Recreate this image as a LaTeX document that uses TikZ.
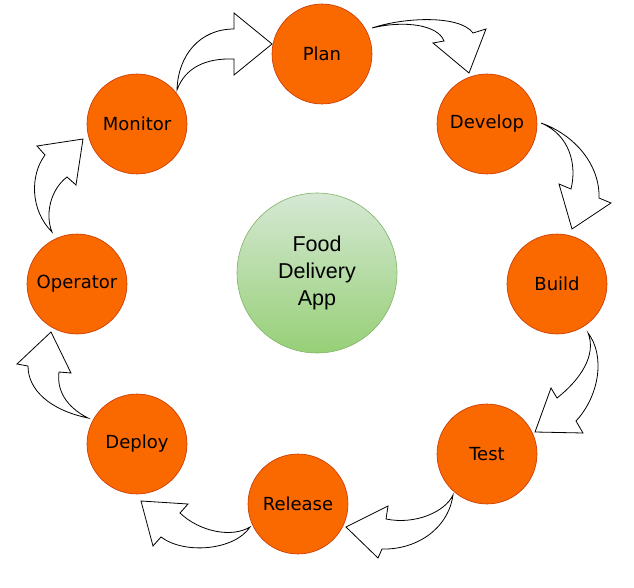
\documentclass[tikz,border=0pt]{standalone}
\usepackage{fontspec}
\setmainfont{DejaVu Sans}
\newfontfamily\appfont{Liberation Sans}
\usepackage{tikz}
\definecolor{stageorange}{HTML}{FA6800}
\definecolor{stageedge}{HTML}{C73500}
\definecolor{apptop}{HTML}{D5E8D4}
\definecolor{appbottom}{HTML}{97D077}
\definecolor{appedge}{HTML}{82B366}

\begin{document}
\begin{tikzpicture}[x=1pt, y=-1pt,
        stage/.style={circle, draw=stageedge, line width=0.6pt, fill=stageorange,
            minimum size=100pt, inner sep=0pt, font=\fontsize{18}{22}\selectfont},
        hub/.style={circle, draw=appedge, line width=0.6pt, top color=apptop, bottom color=appbottom,
            minimum size=160pt, inner sep=0pt, align=center, font=\appfont\fontsize{21.5}{26.7}\selectfont},
        bigarrow/.style={draw=black, fill=white, line width=0.8pt, line join=miter}]
        \useasboundingbox (0,0) rectangle (634,588);

        \node[hub] (app) at (317,273) {Food\\Delivery\\App};

        \node[stage] (plan) at (322,54) {Plan};
        \node[stage] (develop) at (487,124) {Develop};
        \node[stage] (build) at (557,284) {Build};
        \node[stage] (test) at (487,454) {Test};
        \node[stage] (release) at (298,504) {Release};
        \node[stage] (deploy) at (137,444) {Deploy};
        \node[stage] (operator) at (77,284) {Operator};
        \node[stage] (monitor) at (137,124) {Monitor};

        \draw[bigarrow] (177,90) .. controls (178,55) and (200,29) .. (234,29)
            -- (234,13) -- (272,44) -- (234,75) -- (234,59)
            .. controls (205,58) and (185,68) .. cycle;
        \draw[bigarrow] (372,28) .. controls (405,17) and (460,15) .. (473,33)
            -- (486,29) -- (469,73) -- (433,43) -- (444,41)
            .. controls (438,25) and (405,20) .. cycle;
        \draw[bigarrow] (541,123) .. controls (575,135) and (600,165) .. (599,198)
            -- (611,203) -- (572,229) -- (559,184) -- (571,189)
            .. controls (577,165) and (570,135) .. cycle;
        \draw[bigarrow] (588,333) .. controls (605,355) and (600,395) .. (576,421)
            -- (583,433) -- (535,432) -- (551,388) -- (557,398)
            .. controls (580,380) and (597,355) .. cycle;
        \draw[bigarrow] (453,495) .. controls (448,530) and (415,550) .. (382,549)
            -- (378,558) -- (346,527) -- (388,506) -- (386,519)
            .. controls (415,525) and (445,512) .. cycle;
        \draw[bigarrow] (250,527) .. controls (235,550) and (185,555) .. (161,537)
            -- (153,546) -- (141,501) -- (188,504) -- (180,513)
            .. controls (200,532) and (232,538) .. cycle;
        \draw[bigarrow] (88,418) .. controls (50,410) and (28,390) .. (28,366)
            -- (17,364) -- (51,332) -- (71,373) -- (59,372)
            .. controls (56,395) and (72,410) .. cycle;
        \draw[bigarrow] (52,232) .. controls (30,210) and (30,175) .. (45,155)
            -- (37,146) -- (83,139) -- (76,185) -- (67,177)
            .. controls (50,190) and (45,215) .. cycle;
    \end{tikzpicture}
\end{document}
